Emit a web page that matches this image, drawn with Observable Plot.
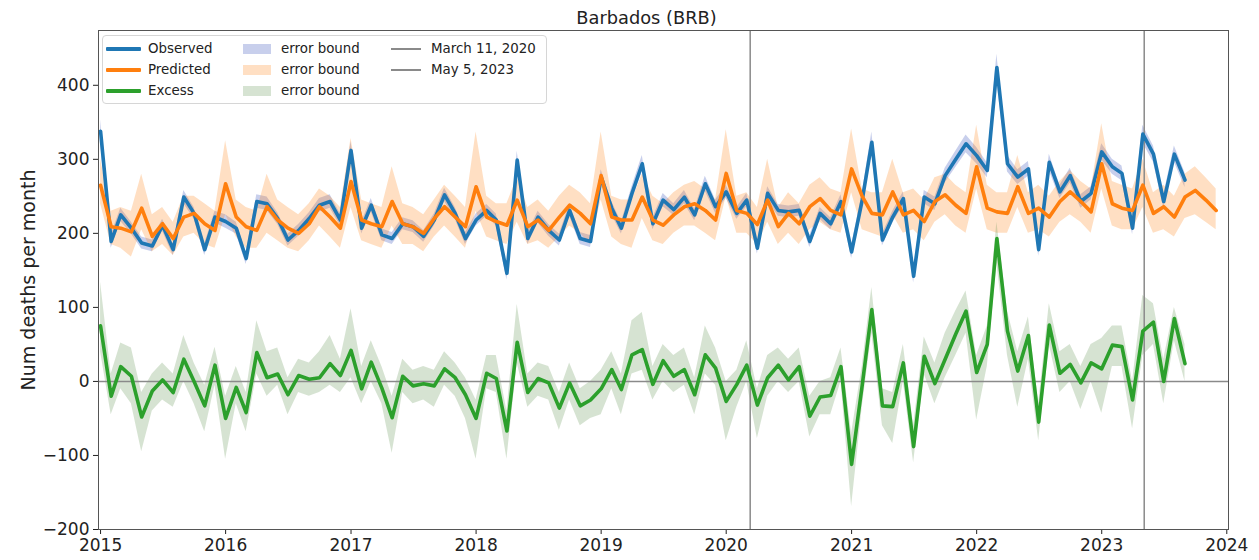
<!DOCTYPE html>
<html>
<head>
<meta charset="utf-8">
<script src="https://cdn.jsdelivr.net/npm/d3@7"></script>
<script src="https://cdn.jsdelivr.net/npm/@observablehq/plot@0.6"></script>
<style>
  html, body { margin: 0; padding: 0; background: white; }
  #wrap { position: relative; width: 1259px; height: 560px; font-family: "DejaVu Sans", sans-serif; }
  #legend { position: absolute; left: 102px; top: 35px; width: 443px; height: 67px; border: 1px solid #d6d6d6; border-radius: 4px; background: rgba(255,255,255,0.85); font-size: 13.4px; color: #222; }
  .ln { position: absolute; height: 4px; border-radius: 1px; }
  .thin { position: absolute; height: 1.5px; background: #8a8a8a; }
  .patch { position: absolute; width: 28px; height: 10px; }
  .lt { position: absolute; line-height: 16px; white-space: nowrap; }
</style>
</head>
<body>
<div id="wrap">
  <div id="chart"></div>
  <div id="legend"></div>
</div>
<script>
// ---- data (monthly, starting January 2015) ----
const startYear = 2015;
const observed = [
  338,189,225,207,187,183,211,178,249,227,178,222,
  216,207,166,243,240,220,191,204,220,238,243,218,
  312,207,238,198,193,213,209,196,218,252,227,193,
  218,231,218,146,299,193,222,204,191,231,193,189,
  276,234,207,254,294,213,245,232,249,225,267,236,
  256,227,245,180,254,231,229,231,189,227,213,243,
  175,245,323,191,222,247,142,249,240,278,300,321,
  305,285,424,294,276,287,178,296,256,278,243,254,
  310,290,281,207,334,307,243,307,272
];
const observedErr = [
  15,9,9,8,8,8,8,8,9,8,8,8,
  9,8,8,9,9,8,8,8,8,9,9,8,
  12,8,9,8,8,8,8,8,8,9,8,8,
  8,8,8,9,12,8,8,8,8,8,8,8,
  10,9,8,9,11,8,9,8,9,8,10,9,
  9,8,9,8,9,8,8,8,8,8,8,9,
  9,9,14,8,8,9,9,9,9,10,11,12,
  11,10,18,11,10,10,9,11,9,10,9,9,
  11,10,10,9,12,11,9,11,10
];
const predicted = [
  265,209,207,202,234,196,213,193,222,227,213,204,
  267,222,209,204,236,218,207,200,213,236,222,207,
  270,218,213,209,243,213,209,200,220,236,222,209,
  263,222,216,211,245,209,218,204,222,238,227,213,
  278,222,218,218,249,218,211,225,236,240,231,218,
  281,231,227,212,245,209,227,213,236,247,231,225,
  287,250,227,225,256,225,231,216,243,252,238,227,
  290,234,229,227,263,227,234,222,243,256,243,229,
  294,240,234,231,265,227,236,222,249,258,245,231
];
const predictedLo = [
  240,185,180,168,205,175,185,170,195,200,185,180,
  225,195,180,180,200,190,180,175,190,210,195,180,
  235,190,185,180,210,185,185,175,195,210,195,180,
  230,195,190,185,215,185,190,180,195,210,200,185,
  245,195,185,180,220,190,185,200,210,210,200,190,
  250,200,200,185,215,185,200,185,205,215,205,200,
  255,205,200,195,225,200,205,190,215,225,210,200,
  260,205,200,200,235,200,205,195,215,225,215,200,
  260,210,205,205,235,200,205,195,220,225,215,205
];
const predictedHi = [
  300,230,235,230,280,225,235,215,250,250,240,230,
  325,245,235,230,280,245,235,225,240,260,250,235,
  328,245,240,235,290,240,235,225,245,265,250,235,
  337,250,240,240,275,235,245,230,250,265,255,240,
  337,250,245,245,280,250,240,255,265,270,260,245,
  340,250,255,235,300,235,255,240,265,275,260,255,
  341,260,255,255,300,255,260,245,275,280,265,255,
  346,265,255,255,305,255,265,250,270,285,270,260,
  348,270,265,260,300,255,265,250,280,290,275,260
];
const excess = [
  75,-20,20,7,-48,-13,2,-15,30,0,-33,22,
  -50,-8,-42,39,5,10,-18,8,3,5,24,8,
  42,-10,26,-9,-49,7,-6,-3,-6,17,5,-18,
  -50,11,4,-67,53,-15,4,-2,-36,-2,-33,-25,
  -10,16,-11,36,43,-4,28,7,16,-18,36,18,
  -27,-4,22,-32,5,22,2,20,-47,-21,-19,20,
  -112,-5,97,-33,-34,25,-88,34,-3,30,64,95,
  12,50,193,68,14,62,-55,76,11,23,-2,25,
  17,49,47,-25,68,80,0,85,24
];
const excessLo = [
  40,-45,-10,-30,-95,-40,-25,-35,0,-30,-68,-5,
  -105,-30,-68,10,-20,-5,-45,-15,-20,-15,-5,-15,
  5,-30,0,-30,-97,-15,-30,-25,-35,-5,-20,-50,
  -105,-10,-15,-105,25,-35,-20,-25,-66,-25,-60,-50,
  -45,-10,-45,10,15,-25,0,-15,-5,-45,10,-5,
  -80,-35,0,-77,-20,0,-15,0,-75,-45,-45,0,
  -169,-35,65,-60,-84,0,-110,10,-30,5,35,65,
  -52,20,160,35,-35,30,-80,50,-15,0,-38,0,
  -43,20,20,-64,35,50,-30,55,0
];
const excessHi = [
  134,10,52,45,-15,10,25,10,62,25,-5,46,
  -20,20,-15,82,40,45,5,30,25,40,62,30,
  98,20,55,20,-20,30,15,20,15,40,25,5,
  -25,35,35,-40,104,10,25,20,-15,25,-10,0,
  15,40,10,82,93,20,50,35,45,5,75,45,
  0,15,55,-10,35,45,30,45,-20,0,5,45,
  -70,20,127,-10,-15,50,-60,60,25,65,95,122,
  35,75,215,95,40,87,-30,105,40,50,20,50,
  58,75,75,0,116,105,30,100,50
];
const vlineDates = ["2020-03-11", "2023-05-05"];
const vlineLabels = ["March 11, 2020", "May 5, 2023"];
const yearTicks = [2015,2016,2017,2018,2019,2020,2021,2022,2023,2024];
const yTicks = [-200,-100,0,100,200,300,400];
const title = "Barbados (BRB)";
const yLabel = "Num deaths per month";

const colors = {obs: "#1f77b4", pred: "#ff7f0e", ex: "#2ca02c"};
const bandColors = {obs: "#4a5fc1", pred: "#ff7f0e", ex: "#5a8f4a"};
const bandOpacity = {obs: 0.3, pred: 0.25, ex: 0.25};

const month = i => new Date(Date.UTC(startYear, i, 1));
const obsRows = observed.map((v, i) => ({date: month(i), v, lo: v - observedErr[i], hi: v + observedErr[i]}));
const predRows = predicted.map((v, i) => ({date: month(i), v, lo: predictedLo[i], hi: predictedHi[i]}));
const exRows = excess.map((v, i) => ({date: month(i), v, lo: excessLo[i], hi: excessHi[i]}));
const vlines = vlineDates.map(d => new Date(d + "T00:00:00Z"));

const chart = Plot.plot({
  width: 1259,
  height: 560,
  marginLeft: 98,
  marginRight: 31,
  marginTop: 30,
  marginBottom: 31,
  style: {fontFamily: "DejaVu Sans", fontSize: "17px", color: "#222", background: "white"},
  x: {
    type: "utc",
    domain: [new Date(Date.UTC(2014, 11, 26)), new Date(Date.UTC(2024, 0, 6))],
    ticks: yearTicks.map(y => new Date(Date.UTC(y, 0, 1))),
    tickFormat: d => String(d.getUTCFullYear()),
    tickSize: 5,
    label: null
  },
  y: {
    domain: [-200, 474],
    ticks: yTicks,
    tickSize: 5,
    label: null
  },
  marks: [
    Plot.areaY(obsRows, {x: "date", y1: "lo", y2: "hi", fill: bandColors.obs, fillOpacity: bandOpacity.obs}),
    Plot.areaY(predRows, {x: "date", y1: "lo", y2: "hi", fill: bandColors.pred, fillOpacity: bandOpacity.pred}),
    Plot.areaY(exRows, {x: "date", y1: "lo", y2: "hi", fill: bandColors.ex, fillOpacity: bandOpacity.ex}),
    Plot.ruleY([0], {stroke: "#8a8a8a", strokeWidth: 1.5}),
    Plot.ruleX(vlines, {stroke: "#8a8a8a", strokeWidth: 1.5}),
    Plot.line(obsRows, {x: "date", y: "v", stroke: colors.obs, strokeWidth: 3.6, strokeLinejoin: "round"}),
    Plot.line(predRows, {x: "date", y: "v", stroke: colors.pred, strokeWidth: 3.6, strokeLinejoin: "round"}),
    Plot.line(exRows, {x: "date", y: "v", stroke: colors.ex, strokeWidth: 3.6, strokeLinejoin: "round"}),
    Plot.frame({stroke: "#555", strokeWidth: 1}),
    Plot.text([title], {frameAnchor: "top", lineAnchor: "middle", textAnchor: "middle", dy: -12, dx: -17, fontSize: 17.8, fill: "#222"}),
    Plot.text([yLabel], {frameAnchor: "left", textAnchor: "middle", lineAnchor: "middle", dx: -70, rotate: -90, fontSize: 19, fill: "#222"})
  ]
});
document.getElementById("chart").appendChild(chart);

// ---- legend ----
const legend = document.getElementById("legend");
const rowsY = [13, 34, 55];
const col1 = [["Observed", colors.obs], ["Predicted", colors.pred], ["Excess", colors.ex]];
const col2 = [["error bound", "obs"], ["error bound", "pred"], ["error bound", "ex"]];
function add(cls, css, text) {
  const el = document.createElement("div");
  el.className = cls;
  Object.assign(el.style, css);
  if (text) el.textContent = text;
  legend.appendChild(el);
}
col1.forEach(([t, c], k) => {
  add("ln", {left: "3px", width: "35px", top: (rowsY[k] - 2) + "px", background: c});
  add("lt", {left: "45px", top: (rowsY[k] - 8) + "px"}, t);
});
col2.forEach(([t, key], k) => {
  add("patch", {left: "140px", top: (rowsY[k] - 5) + "px", background: bandColors[key], opacity: bandOpacity[key]});
  add("lt", {left: "178px", top: (rowsY[k] - 8) + "px"}, t);
});
vlineLabels.forEach((t, k) => {
  add("thin", {left: "288px", width: "30px", top: (rowsY[k] - 0.75) + "px"});
  add("lt", {left: "328px", top: (rowsY[k] - 8) + "px"}, t);
});
</script>
</body>
</html>
